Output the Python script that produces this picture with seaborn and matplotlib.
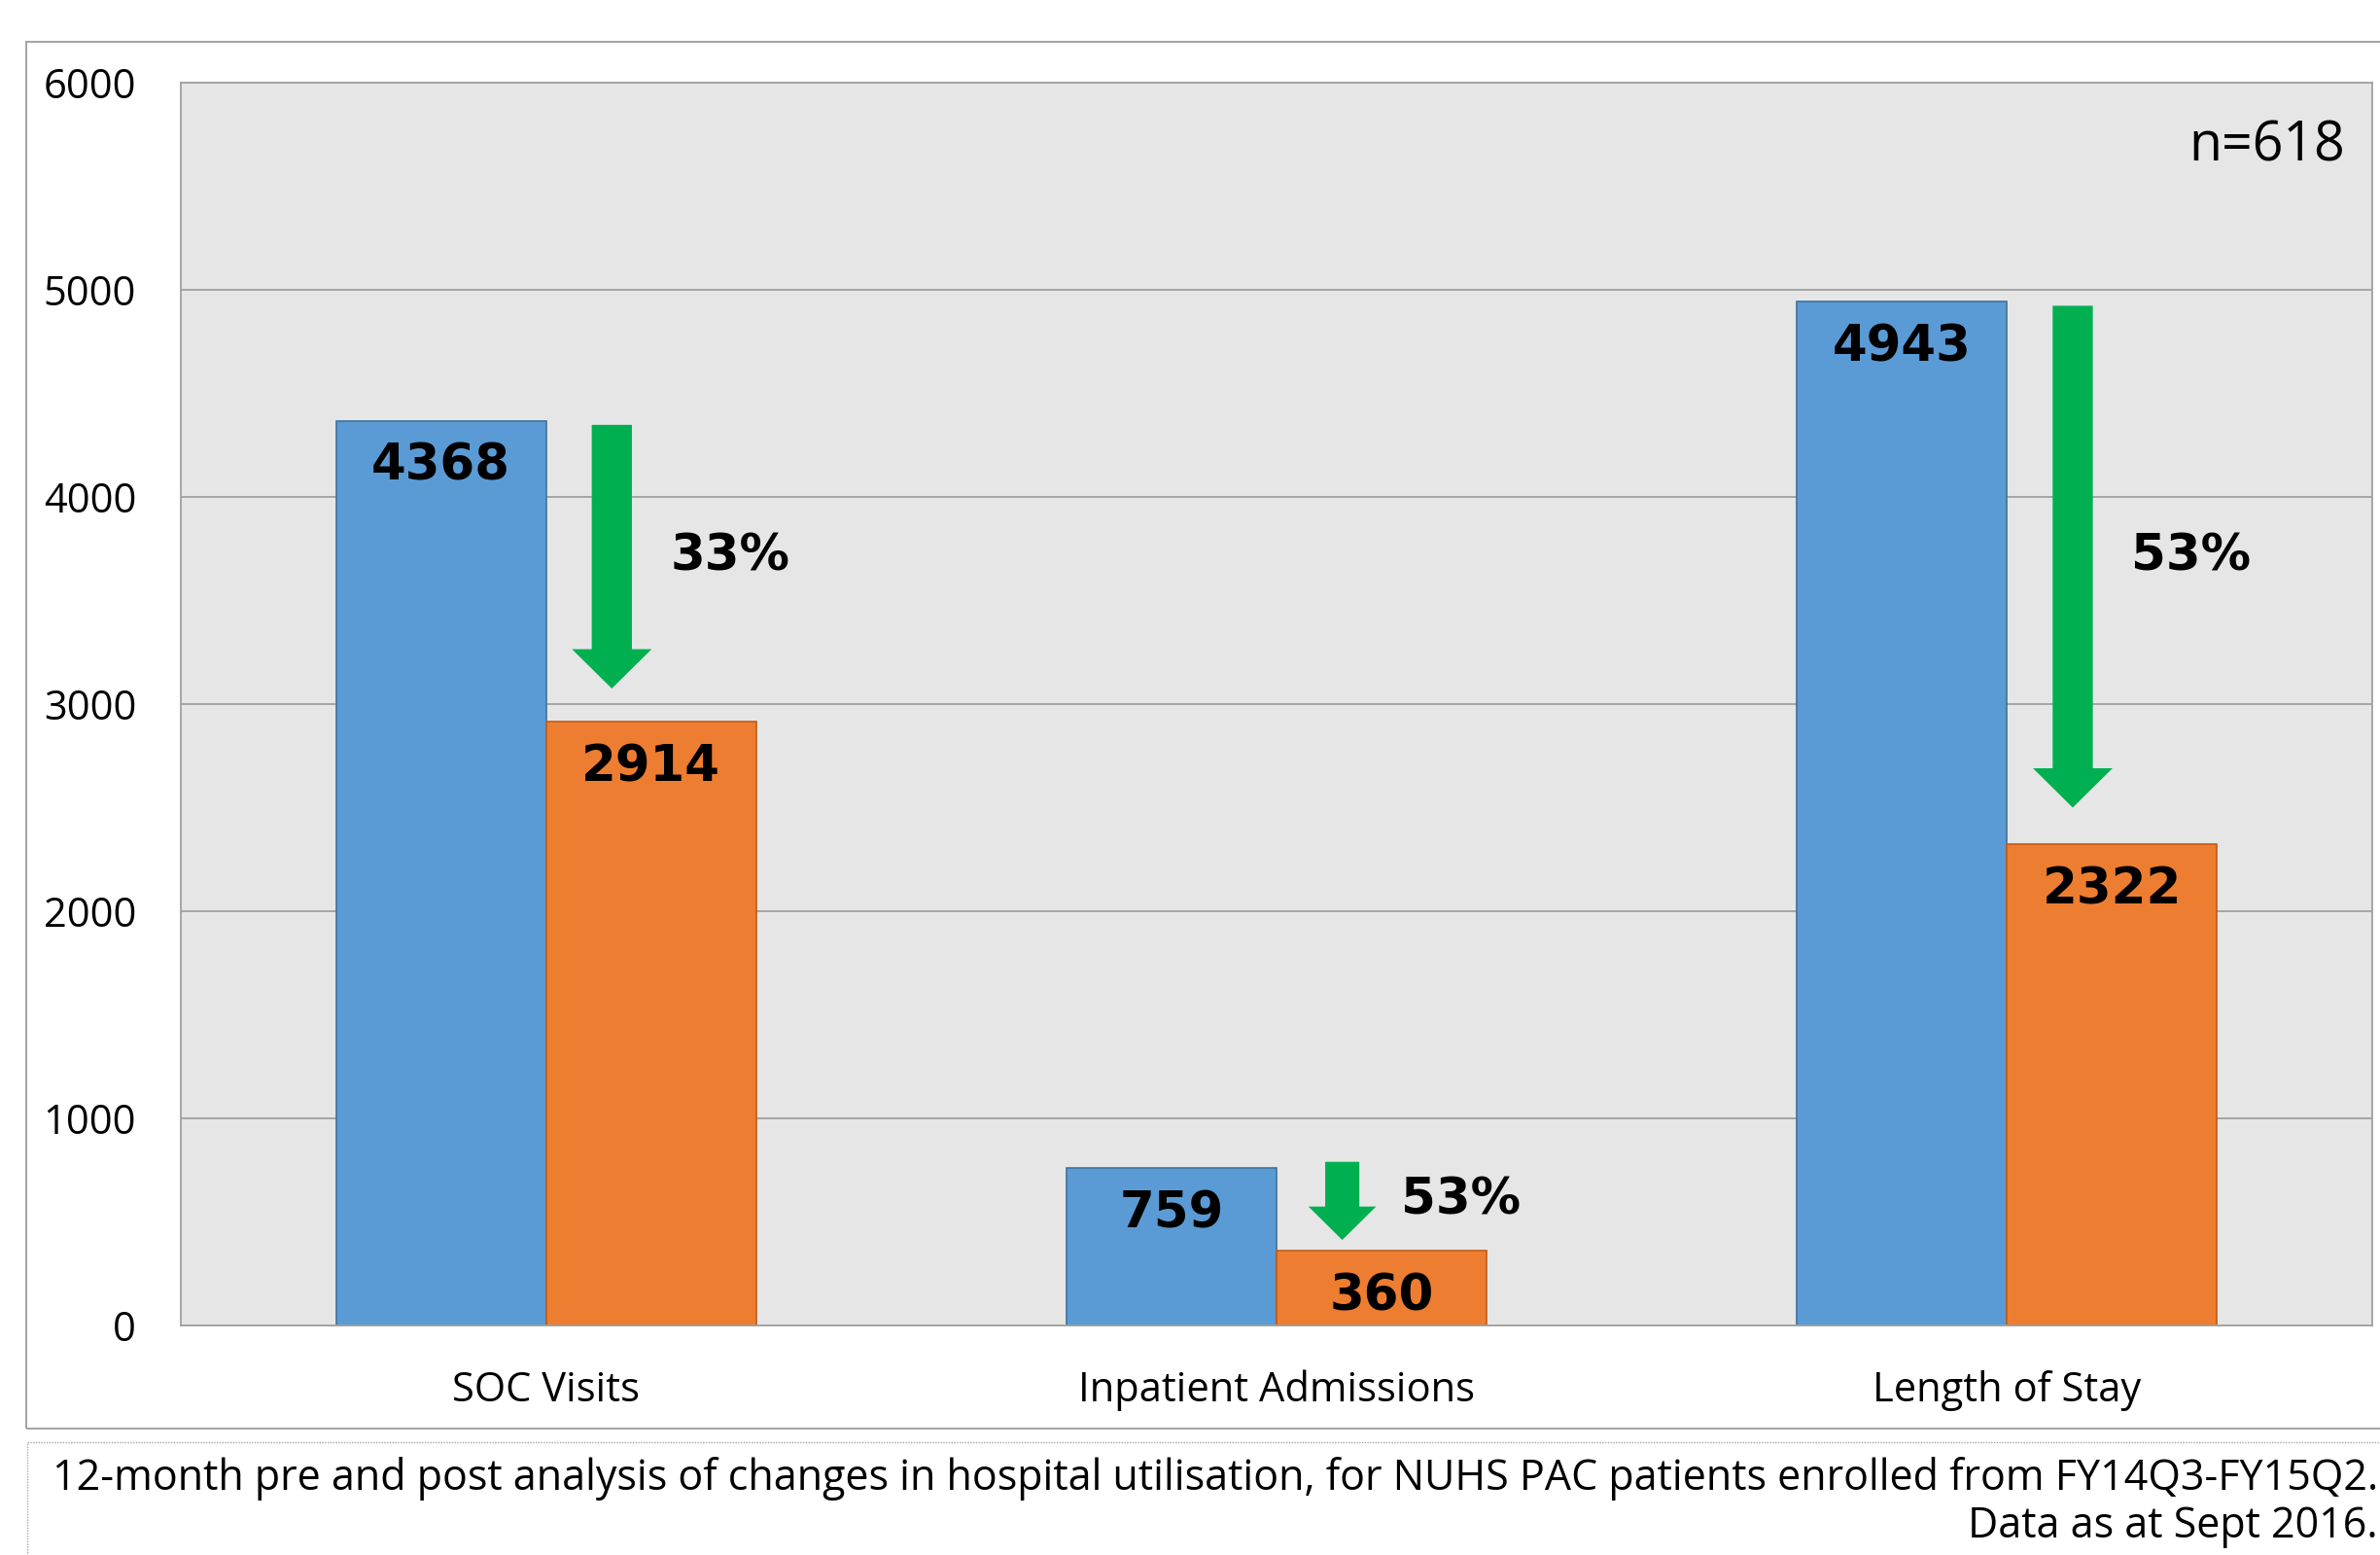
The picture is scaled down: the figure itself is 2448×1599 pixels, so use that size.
import pandas as pd
import seaborn as sns
import matplotlib.pyplot as plt
from matplotlib.patches import Rectangle, FancyArrow

# chart values
categories = ['SOC Visits', 'Inpatient Admissions', 'Length of Stay']
pre_values = [4368, 759, 4943]
post_values = [2914, 360, 2322]
sample_note = 'n=618'
caption = ('12-month pre and post analysis of changes in hospital utilisation, '
           'for NUHS PAC patients enrolled from FY14Q3-FY15Q2.\nData as at Sept 2016.')

df = pd.DataFrame({
    'category': categories * 2,
    'period': ['Pre'] * 3 + ['Post'] * 3,
    'value': pre_values + post_values,
})

sns.set_theme(style='white')
plt.rcParams['font.family'] = ['Open Sans', 'DejaVu Sans']

W, H = 2448, 1599
fig = plt.figure(figsize=(W / 100, H / 100), dpi=100)
# plot area in pixels: left 186, right 2440, top 85, bottom 1363
ax = fig.add_axes([186 / W, (H - 1363) / H, (2440 - 186) / W, (1363 - 85) / H])

blue, orange, green = '#5B9BD5', '#ED7D31', '#00B050'
sns.barplot(data=df, x='category', y='value', hue='period', order=categories,
            hue_order=['Pre', 'Post'], palette=[blue, orange], width=0.575,
            saturation=1, legend=False, ax=ax, zorder=2)

for cont, ec in zip(ax.containers, ['#41719C', '#C55A11']):
    for bar in cont:
        bar.set_edgecolor(ec)
        bar.set_linewidth(1.2)

ax.set_facecolor('#E6E6E6')
ax.set_ylim(0, 6000)
ax.set_xlim(-0.5, 2.5)
ax.set_yticks(range(0, 6001, 1000))
ax.yaxis.grid(True, color='#A0A0A0', linewidth=1.3)
ax.set_axisbelow(True)
ax.set_xlabel('')
ax.set_ylabel('')
ax.tick_params(axis='both', length=0, labelsize=30, colors='black')
ax.tick_params(axis='y', pad=33)
ax.tick_params(axis='x', pad=33)
for sp in ax.spines.values():
    sp.set_color('#A0A0A0')
    sp.set_linewidth(1.3)

# value labels inside bar tops
bw = 0.575 / 2
for i, (pre, post) in enumerate(zip(pre_values, post_values)):
    for x, v in [(i - bw / 2, pre), (i + bw / 2, post)]:
        ax.annotate(str(v), (x, v), xytext=(0, -34), textcoords='offset points',
                    ha='center', va='center', fontsize=37, fontweight='bold',
                    family='DejaVu Sans', color='black', zorder=4)

    # green decrease arrow + percent
    top = max(pre, post + 450) - 20
    tip = post + 0.03 * pre + 30
    s = 0.85 if (top - tip) < 1000 else 1.0
    ax_x = i + 0.09
    ax.add_patch(FancyArrow(ax_x, top, 0, tip - top, width=0.055 * s,
                            head_width=0.109 * s, head_length=190 * s,
                            length_includes_head=True, color=green,
                            linewidth=0, zorder=5))
    pct = round((pre - post) / pre * 100)
    ax.text(i + 0.17, (top + tip) / 2, f'{pct}%', ha='left', va='center',
            fontsize=37, fontweight='bold', family='DejaVu Sans', color='black', zorder=5)

ax.text(0.9876, 0.948, sample_note, transform=ax.transAxes, ha='right',
        va='center', fontsize=40, color='black')

# outer chart frame and caption box
fig.patches.append(Rectangle((27 / W, (H - 1469) / H), 1.05, (1469 - 43) / H,
                             transform=fig.transFigure, fill=False,
                             edgecolor='#A6A6A6', linewidth=1.5, zorder=0))
fig.patches.append(Rectangle((28 / W, -0.05), 1.05, (H - 1483) / H + 0.05,
                             transform=fig.transFigure, fill=False,
                             edgecolor='#A6A6A6', linewidth=1.0,
                             linestyle=(0, (1, 1)), zorder=0))
fig.text(2446 / W, (H - 1545) / H, caption, ha='right', va='center',
         multialignment='right', fontsize=31, color='black', linespacing=1.15)

fig.savefig('out.png', dpi=100)
